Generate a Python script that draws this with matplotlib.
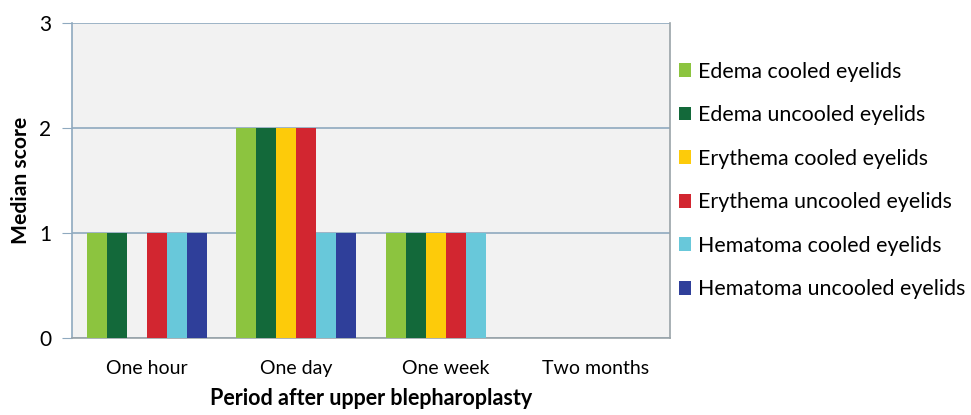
import matplotlib.pyplot as plt
import numpy as np

plt.rcParams['font.family'] = ['Lato', 'DejaVu Sans']

periods = ['One hour', 'One day', 'One week', 'Two months']
series = ['Edema cooled eyelids', 'Edema uncooled eyelids',
          'Erythema cooled eyelids', 'Erythema uncooled eyelids',
          'Hematoma cooled eyelids', 'Hematoma uncooled eyelids']
edema_cooled = [1, 2, 1, 0]
edema_uncooled = [1, 2, 1, 0]
erythema_cooled = [0, 2, 1, 0]
erythema_uncooled = [1, 2, 1, 0]
hematoma_cooled = [1, 1, 1, 0]
hematoma_uncooled = [1, 1, 0, 0]
colors = ['#8cc43f', '#13693a', '#fdcb0a', '#d22630', '#68c8da', '#2f3f9a']

values = [edema_cooled, edema_uncooled, erythema_cooled,
          erythema_uncooled, hematoma_cooled, hematoma_uncooled]

fig = plt.figure(figsize=(9.71, 4.15), dpi=100)
ax = fig.add_axes([72/971, 1 - 338/415, 598/971, 315/415])
ax.set_facecolor('#f2f2f2')

x = np.arange(len(periods))
w = 0.8 / 6
for i, (vals, lab, c) in enumerate(zip(values, series, colors)):
    ax.bar(x - 0.4 + w*(i + 0.5), vals, w, color=c, label=lab, zorder=3)

ax.set_xlim(-0.5, 3.5)
ax.set_ylim(0, 3)
ax.set_yticks([0, 1, 2, 3])
ax.grid(axis='y', color='#8fa9bf', linewidth=1.2, zorder=0)
ax.set_xticks(x)
ax.set_xticklabels(periods, fontsize=14)
ax.tick_params(axis='x', length=0, pad=16)
ax.tick_params(axis='y', length=7, color='#8fa9bf', labelsize=15, pad=8)
ax.spines['left'].set_color('#8fa9bf')
ax.spines['left'].set_linewidth(1.2)
for s in ['bottom', 'right']:
    ax.spines[s].set_color('#9aa3a8')
    ax.spines[s].set_linewidth(1.2)
ax.spines['top'].set_visible(False)

ax.set_ylabel('Median score', fontsize=15.2, fontweight='bold', labelpad=6)
ax.set_xlabel('Period after upper blepharoplasty', fontsize=15.5,
              fontweight='bold', labelpad=8)

ax.legend(loc='center left', bbox_to_anchor=(1.0, 0.5), frameon=False,
          fontsize=15.4, handlelength=0.6, handleheight=0.6, handletextpad=0.3,
          labelspacing=1.1, borderaxespad=0.0)

fig.savefig('out.png', dpi=100)
